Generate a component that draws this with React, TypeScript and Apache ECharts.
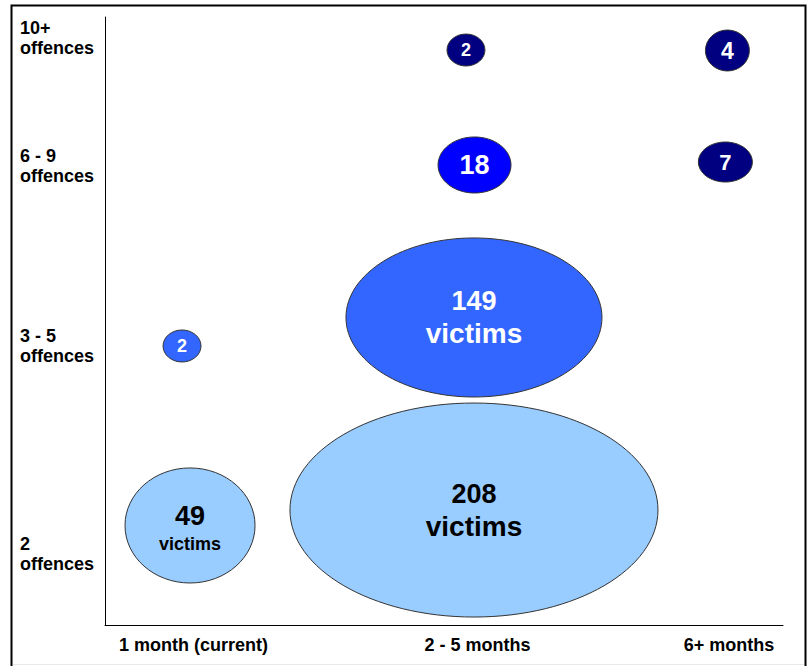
import React, { useEffect, useRef } from "react";
import * as echarts from "echarts";

// Axis categories and where they sit on the 0-100 axis scales
const xCategories = ["1 month (current)", "2 - 5 months", "6+ months"];
const xCategoryPos = [13.05, 54.94, 92.04];
const yCategories = ["2\noffences", "3 - 5\noffences", "6 - 9\noffences", "10+\noffences"];
const yCategoryPos = [11.7, 45.9, 75.5, 96.5];

// Bubbles: number of victims, centre and half-extents in axis units
const victims = [49, 208, 2, 149, 18, 7, 2, 4];
const bubbleX = [12.54, 54.42, 11.36, 54.42, 54.5, 91.5, 53.24, 91.8];
const bubbleY = [16.37, 18.91, 45.89, 50.58, 75.66, 76.15, 94.57, 94.49];
const halfSpanX = [9.59, 27.14, 2.8, 18.88, 5.38, 3.98, 2.8, 3.24];
const halfSpanY = [9.46, 17.6, 2.63, 13.08, 4.61, 3.29, 2.63, 3.37];

// Styles
const BUBBLE_COLORS = ["#99ccff", "#99ccff", "#3366ff", "#3366ff", "#0000ff", "#000080", "#000080", "#000080"];
const FONT = "'Liberation Sans', Arial, sans-serif";

function nearestIndex(arr: number[], v: number) {
  let best = 0;
  for (let i = 1; i < arr.length; i++) if (Math.abs(arr[i] - v) < Math.abs(arr[best] - v)) best = i;
  return best;
}

export default function App() {
  const ref = useRef<HTMLDivElement>(null);
  useEffect(() => {
    if (!ref.current) return;
    const chart = echarts.init(ref.current, null, { renderer: "svg" });
    const data = victims.map((v, i) => [bubbleX[i], bubbleY[i], halfSpanX[i], halfSpanY[i], v]);
    chart.setOption({
      animation: false,
      backgroundColor: "#ffffff",
      grid: { left: 105, top: 17, right: 28, bottom: 41, containLabel: false },
      graphic: [
        {
          type: "rect",
          shape: { x: 11.5, y: 5.5, width: 794, height: 700 },
          style: { fill: "none", stroke: "#000", lineWidth: 2 },
          silent: true,
        },
        {
          type: "line",
          shape: { x1: 13, y1: 664.5, x2: 804, y2: 664.5 },
          style: { stroke: "#e8e8e8", lineWidth: 1 },
          silent: true,
          z: 10,
        },
      ],
      xAxis: {
        type: "value",
        min: 0,
        max: 100,
        splitLine: { show: false },
        axisTick: { show: false },
        axisLine: { show: true, onZero: false, lineStyle: { color: "#000", width: 1 } },
        axisLabel: {
          customValues: xCategoryPos,
          formatter: (v: number) => xCategories[nearestIndex(xCategoryPos, v)],
          margin: 11,
          color: "#000",
          fontSize: 18,
          fontWeight: "bold",
          fontFamily: FONT,
        },
      },
      yAxis: {
        type: "value",
        min: 0,
        max: 100,
        splitLine: { show: false },
        axisTick: { show: false },
        axisLine: { show: true, onZero: false, lineStyle: { color: "#000", width: 1 } },
        axisLabel: {
          customValues: yCategoryPos,
          formatter: (v: number) => yCategories[nearestIndex(yCategoryPos, v)],
          align: "left",
          margin: 85,
          color: "#000",
          fontSize: 18,
          lineHeight: 20,
          fontWeight: "bold",
          fontFamily: FONT,
        },
      },
      series: [
        {
          type: "custom",
          coordinateSystem: "cartesian2d",
          encode: { x: 0, y: 1 },
          data,
          clip: false,
          renderItem: (params: any, api: any) => {
            const i = params.dataIndex;
            const c = api.coord([api.value(0), api.value(1)]);
            const s = api.size([api.value(2), api.value(3)]);
            const v = api.value(4);
            const fill = BUBBLE_COLORS[i];
            const textFill = fill === "#99ccff" ? "#000" : "#fff";
            const numSize = Math.min(27, Math.round(s[1] * 1.1));
            const big = v >= 49;
            const large = s[1] > 70;
            const wordSize = large ? 28 : 18;
            const text = big ? `{n|${v}}\n{w|victims}` : `{n|${v}}`;
            return {
              type: "ellipse",
              shape: { cx: c[0], cy: c[1], rx: s[0], ry: s[1] },
              style: { fill, stroke: "#333", lineWidth: 1 },
              textContent: {
                style: {
                  text,
                  align: "center",
                  verticalAlign: "middle",
                  fill: textFill,
                  stroke: "transparent",
                  lineWidth: 0,
                  rich: {
                    n: {
                      fontSize: numSize,
                      fontWeight: "bold",
                      fontFamily: FONT,
                      fill: textFill,
                      lineHeight: big ? (large ? 32 : 30) : numSize + 2,
                    },
                    w: {
                      fontSize: wordSize,
                      fontWeight: "bold",
                      fontFamily: FONT,
                      fill: textFill,
                      lineHeight: large ? 32 : 26,
                    },
                  },
                },
              },
              textConfig: {
                position: "inside",
                offset: [0, big && !large ? 4 : 0],
                insideFill: textFill,
                insideStroke: "transparent",
              },
            };
          },
        },
      ],
    });
    return () => chart.dispose();
  }, []);
  return (
    <div
      ref={ref}
      style={{ position: "absolute", left: 0, top: 0, width: 811, height: 666 }}
    />
  );
}
